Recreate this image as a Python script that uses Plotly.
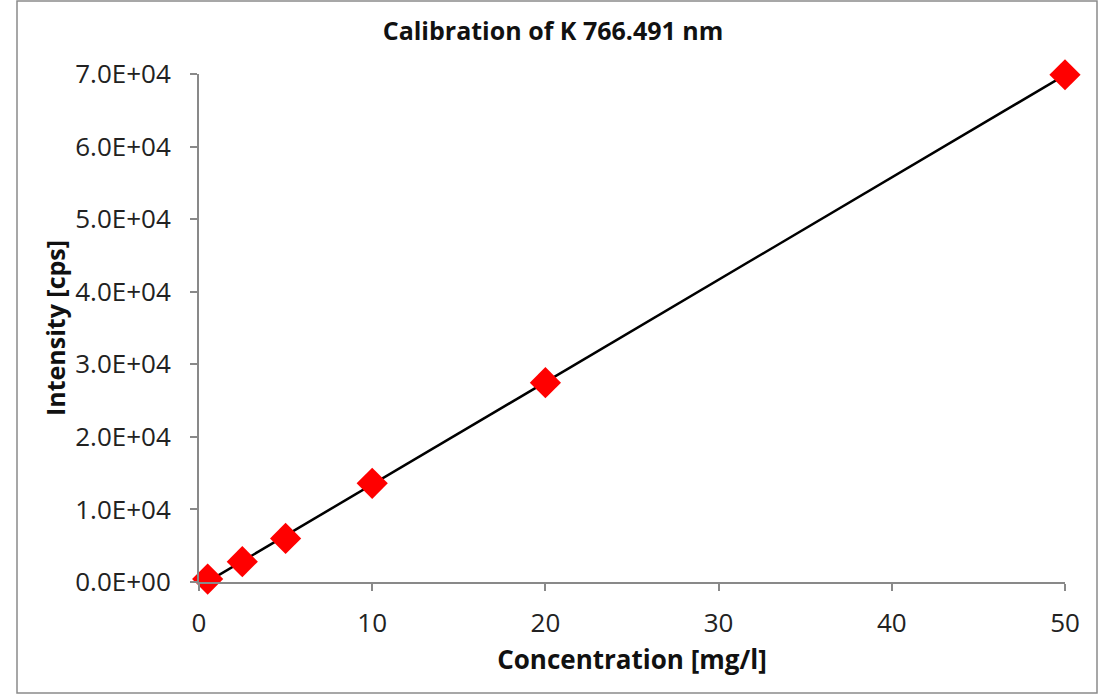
import numpy as np
import plotly.graph_objects as go

conc = [0.5, 2.5, 5, 10, 20, 50]
intensity = [400, 2800, 6000, 13600, 27460, 69900]
y_tickvals = [0, 10000, 20000, 30000, 40000, 50000, 60000, 70000]
y_ticktext = ["0.0E+00", "1.0E+04", "2.0E+04", "3.0E+04", "4.0E+04", "5.0E+04", "6.0E+04", "7.0E+04"]
x_tickvals = [0, 10, 20, 30, 40, 50]

slope, intercept = np.polyfit(conc, intensity, 1)
fit_x = [min(conc), max(conc)]
fit_y = [slope * v + intercept for v in fit_x]

W, H = 1099, 697
L, R, T, B = 199, 34, 74, 115
pw, ph = W - L - R, H - T - B

fig = go.Figure()
fig.add_trace(go.Scatter(x=fit_x, y=fit_y, mode="lines", cliponaxis=False,
                         line=dict(color="black", width=2.5), showlegend=False))
fig.add_trace(go.Scatter(x=conc, y=intensity, mode="markers", cliponaxis=False,
                         marker=dict(symbol="diamond", size=24, color="#FF0000", line=dict(width=0)),
                         showlegend=False))

font = "Open Sans"
fig.update_layout(
    width=W, height=H,
    margin=dict(l=L, r=R, t=T, b=B),
    paper_bgcolor="white", plot_bgcolor="white",
    title=dict(text="<b>Calibration of K 766.491 nm</b>", x=553 / W, xanchor="center",
               y=1 - 31 / H, yanchor="middle",
               font=dict(family=font, size=25, color="#111")),
    xaxis=dict(range=[0, 50], tickvals=x_tickvals, showgrid=False, zeroline=False,
               showline=True, linecolor="#898989", linewidth=2,
               ticks="outside", ticklen=7, tickcolor="#898989", tickwidth=2,
               tickfont=dict(family=font, size=26, color="#222"),
               ticklabelstandoff=10,
               title=dict(text="<b>Concentration [mg/l]</b>", standoff=12,
                          font=dict(family=font, size=26, color="#111"))),
    yaxis=dict(range=[0, 70000], tickvals=y_tickvals, ticktext=y_ticktext,
               showgrid=False, zeroline=False,
               showline=True, linecolor="#898989", linewidth=2,
               ticks="outside", ticklen=7, tickcolor="#898989", tickwidth=2,
               tickfont=dict(family=font, size=26, color="#222"),
               ticklabelstandoff=14,
               title=dict(text="<b>Intensity [cps]</b>", standoff=2,
                          font=dict(family=font, size=25, color="#111"))),
    shapes=[dict(type="rect", xref="paper", yref="paper",
                 x0=(17 - L) / pw, x1=(1097 - L) / pw,
                 y0=-(693 - T - ph) / ph, y1=(T + ph - 1) / ph,
                 line=dict(color="#8a8a8a", width=1.5), fillcolor="rgba(0,0,0,0)", layer="below")],
)
fig.write_html("out.html")
